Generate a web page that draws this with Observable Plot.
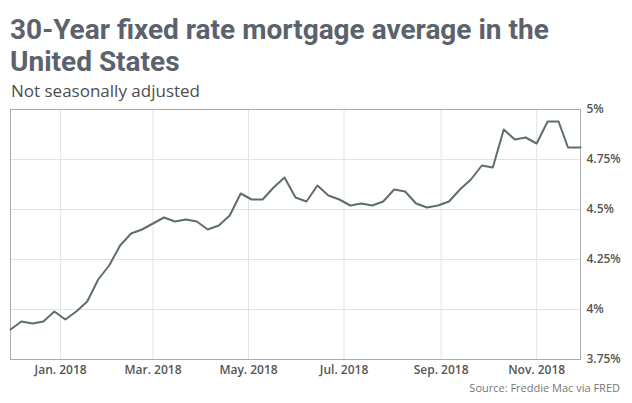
<!DOCTYPE html>
<html><head><meta charset="utf-8">
<script src="https://cdn.jsdelivr.net/npm/d3@7"></script>
<script src="https://cdn.jsdelivr.net/npm/@observablehq/plot@0.6"></script>
<style>
body{margin:0;background:#fff;width:632px;height:403px;position:relative;overflow:hidden}
#title{position:absolute;left:10px;top:14px;font:700 28px/32px Roboto,sans-serif;color:#5c626d;white-space:nowrap}
#subtitle{position:absolute;left:11px;top:79px;font:400 17px "Open Sans",sans-serif;color:#4d4d4d;white-space:nowrap}
#chart{position:absolute;left:0;top:100px}
#caption{position:absolute;right:12px;top:380px;font:400 11px "Open Sans",sans-serif;color:#777;white-space:nowrap}
</style></head><body>
<div id="title">30-Year fixed rate mortgage average in the<br>United States</div>
<div id="subtitle">Not seasonally adjusted</div>
<div id="chart"></div>
<div id="caption">Source: Freddie Mac via FRED</div>
<script>
const weeks = ["2017-11-30","2017-12-07","2017-12-14","2017-12-21","2017-12-28",
"2018-01-04","2018-01-11","2018-01-18","2018-01-25","2018-02-01","2018-02-08","2018-02-15","2018-02-22",
"2018-03-01","2018-03-08","2018-03-15","2018-03-22","2018-03-29","2018-04-05","2018-04-12","2018-04-19","2018-04-26",
"2018-05-03","2018-05-10","2018-05-17","2018-05-24","2018-05-31","2018-06-07","2018-06-14","2018-06-21","2018-06-28",
"2018-07-05","2018-07-12","2018-07-19","2018-07-26","2018-08-02","2018-08-09","2018-08-16","2018-08-23","2018-08-30",
"2018-09-06","2018-09-13","2018-09-20","2018-09-27","2018-10-04","2018-10-11","2018-10-18","2018-10-25",
"2018-11-01","2018-11-08","2018-11-15","2018-11-21","2018-11-29"];
const rates = [3.90,3.94,3.93,3.94,3.99,
3.95,3.99,4.04,4.15,4.22,4.32,4.38,4.40,
4.43,4.46,4.44,4.45,4.44,4.40,4.42,4.47,4.58,
4.55,4.55,4.61,4.66,4.56,4.54,4.62,4.57,4.55,
4.52,4.53,4.52,4.54,4.60,4.59,4.53,4.51,4.52,
4.54,4.60,4.65,4.72,4.71,4.90,4.85,4.86,
4.83,4.94,4.94,4.81,4.81];
const xTickDates = ["2018-01-01","2018-03-01","2018-05-01","2018-07-01","2018-09-01","2018-11-01"];
const yTickValues = [3.75,4,4.25,4.5,4.75,5];

const data = weeks.map((w,i)=>({date:new Date(w), rate:rates[i]}));
const xTicks = xTickDates.map(d=>new Date(d));
const fmt = d3.utcFormat("%b. %Y");

const chart = Plot.plot({
  width:632, height:280,
  marginLeft:10, marginRight:52, marginTop:9, marginBottom:21,
  style:{fontFamily:"'Open Sans', sans-serif", fontSize:"12px", color:"#555", background:"transparent"},
  x:{type:"utc", domain:[data[0].date, data[data.length-1].date]},
  y:{domain:[3.75,5]},
  marks:[
    Plot.gridX(xTicks, {stroke:"#e3e3e3", strokeOpacity:1}),
    Plot.gridY(yTickValues, {stroke:"#e3e3e3", strokeOpacity:1}),
    Plot.frame({stroke:"#aaa"}),
    Plot.line(data, {x:"date", y:"rate", stroke:"#5e6e6b", strokeWidth:2, strokeLinejoin:"round"}),
    Plot.axisX(xTicks, {tickSize:0, tickPadding:6, tickFormat:fmt, fontWeight:600, label:null}),
    Plot.axisY(yTickValues, {anchor:"right", tickSize:0, tickPadding:6, tickFormat:d=>d+"%", fontWeight:600, label:null})
  ]
});
document.getElementById("chart").appendChild(chart);
</script>
</body></html>
